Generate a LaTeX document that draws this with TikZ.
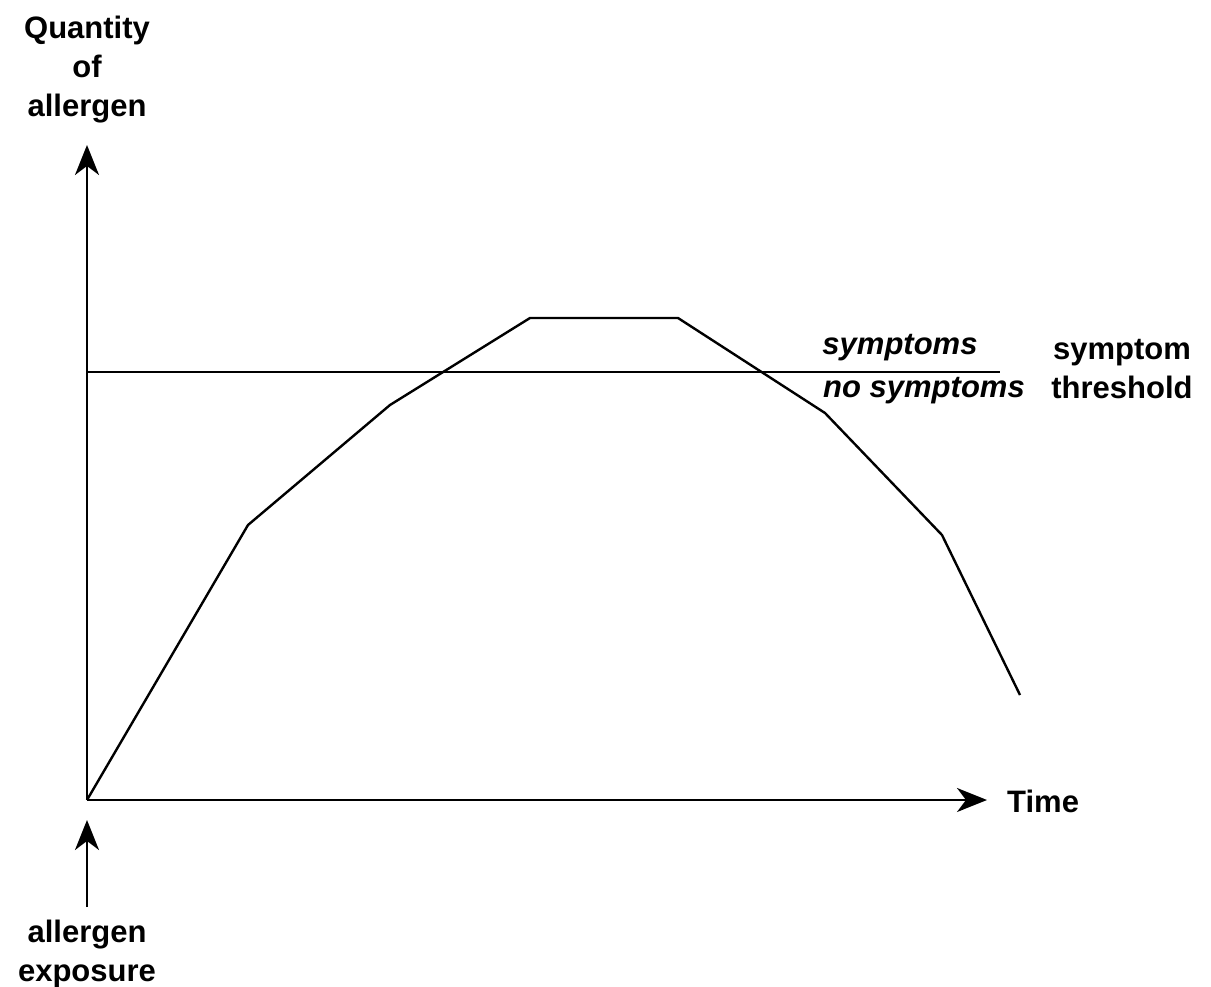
\documentclass[tikz,border=0pt]{standalone}
\usepackage{fontspec}
\setmainfont{Liberation Sans}
\usetikzlibrary{arrows.meta}
\begin{document}
\begin{tikzpicture}[x=1pt,y=-1pt,
  lbl/.style={font=\fontsize{31}{39}\selectfont\bfseries, align=center, inner sep=0pt},
  ilbl/.style={font=\fontsize{31}{39}\selectfont\bfseries\itshape, inner sep=0pt},
  ln/.style={line width=2.4pt, line join=miter},
  arr/.style={ln, -{Stealth[length=30pt,width=24pt,inset=9pt]}}]
\useasboundingbox (0,0) rectangle (1211,987);
\coordinate (O) at (87,800);
\coordinate (Ytip) at (87,145);
\coordinate (Xtip) at (987,800);
\coordinate (Ebase) at (87,907);
\coordinate (Etip) at (87,820);
\coordinate (T1) at (87,372);
\coordinate (T2) at (1000,372);
\node[lbl] (ylab) at (87,70) {Quantity\\of\\allergen};
\node[lbl, anchor=west] (time) at (1007,801) {Time};
\node[lbl] (exp) at (87,954) {allergen\\exposure};
\node[ilbl] (sym) at (900,348) {symptoms};
\node[ilbl] (nosym) at (924,391) {no symptoms};
\node[lbl] (thr) at (1122,369) {symptom\\threshold};
\draw[arr] (O) -- (Ytip);
\draw[arr] (O) -- (Xtip);
\draw[arr] (Ebase) -- (Etip);
\draw[ln] (T1) -- (T2);
\draw[ln] (O) -- (248,525) -- (390,405) -- (530,318) -- (678,318) -- (825,413) -- (942,535) -- (1020,695);
\end{tikzpicture}
\end{document}
